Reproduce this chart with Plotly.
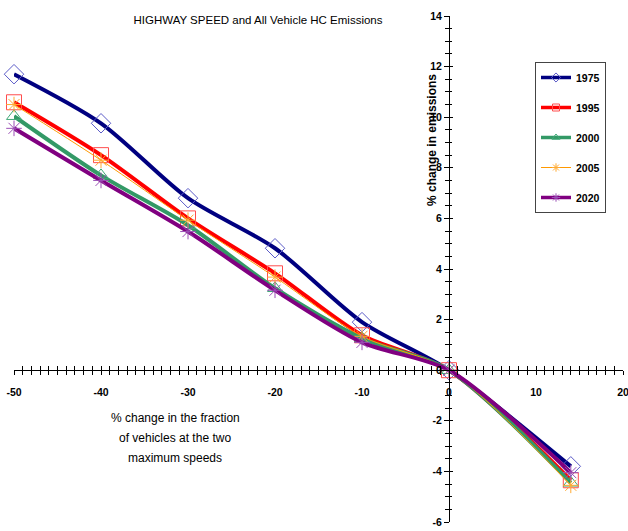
import plotly.graph_objects as go

x_vals = [-50, -40, -30, -20, -10, 0, 14]
series_names = ["1975", "1995", "2000", "2005", "2020"]
y_1975 = [11.70, 9.76, 6.80, 4.82, 1.90, 0.0, -3.80]
y_1995 = [10.59, 8.50, 6.00, 3.83, 1.38, 0.0, -4.35]
y_2000 = [10.04, 7.70, 5.73, 3.24, 1.26, 0.0, -4.45]
y_2005 = [10.50, 8.30, 5.93, 3.68, 1.34, 0.0, -4.55]
y_2020 = [9.56, 7.50, 5.48, 3.16, 1.10, 0.0, -4.05]
series_values = [y_1975, y_1995, y_2000, y_2005, y_2020]

x_tick_vals = [-50, -40, -30, -20, -10, 0, 10, 20]
x_tick_text = ["-50", "-40", "-30", "-20", "-10", "0", "10", "20"]
y_tick_vals = [-6, -4, -2, 0, 2, 4, 6, 8, 10, 12, 14]
y_tick_text = ["-6", "-4", "-2", "0", "2", "4", "6", "8", "10", "12", "14"]

line_colors = ["#000080", "#FF0000", "#339966", "#FF9900", "#800080"]
marker_colors = ["#5B5BC8", "#FF4D4D", "#3FA877", "#FFAA33", "#9A4FB5"]
line_widths = [4, 4, 4, 1, 4]
marker_symbols = ["diamond-open", "square-open", "triangle-up-open", "asterisk-open", "asterisk-open"]
marker_sizes = [15, 15, 13, 13, 13]

x_title_lines = ["% change in the fraction", "of vehicles at the two", "maximum speeds"]
y_title = "% change in emissions"
chart_title = "HIGHWAY SPEED and All Vehicle HC Emissions"

# body margin removed via post_script; plot area target (screen px): x 14..623, y 16..522
OFF = 0
PL, PR, PT, PB = 14 - OFF, 623 - OFF, 16 - OFF, 522 - OFF
W, H = 628, 531
PW, PH = PR - PL, PB - PT


def px_to_paper_x(sx):
    return (sx - OFF - PL) / PW


def px_to_paper_y(sy):
    return 1 - (sy - OFF - PT) / PH


fig = go.Figure()

for i, name in enumerate(series_names):
    fig.add_trace(go.Scatter(
        x=x_vals, y=series_values[i], mode="lines+markers", name=name,
        line=dict(color=line_colors[i], width=line_widths[i], shape="spline", smoothing=0.8),
        marker=dict(symbol=marker_symbols[i], size=marker_sizes[i],
                    color=marker_colors[i], line=dict(color=marker_colors[i], width=1)),
        showlegend=False, hoverinfo="skip", cliponaxis=False,
    ))

# legend entries with small markers
for i, name in enumerate(series_names):
    fig.add_trace(go.Scatter(
        x=[None], y=[None], mode="lines+markers", name=name, legendgroup=name,
        line=dict(color=line_colors[i], width=min(line_widths[i], 3.5)),
        marker=dict(symbol=marker_symbols[i], size=7,
                    color=marker_colors[i], line=dict(color=marker_colors[i], width=1)),
    ))

# invisible helper trace so the overlay axes (inner half of crossing ticks) are drawn
fig.add_trace(go.Scatter(x=[None], y=[None], xaxis="x2", yaxis="y2", showlegend=False,
                         hoverinfo="skip", mode="lines"))

tickfont = dict(family="Liberation Sans, Arial", size=10.5, color="black", weight="bold")

fig.update_layout(
    width=W, height=H,
    margin=dict(l=PL, r=W - PR, t=PT, b=H - PB, autoexpand=False),
    paper_bgcolor="white", plot_bgcolor="white",
    title=dict(text=chart_title, x=(258 - OFF) / W, xref="container", xanchor="center",
               y=1 - (20 - OFF) / H, yref="container", yanchor="middle",
               font=dict(family="Liberation Sans, Arial", size=11.5, color="black")),
    xaxis=dict(range=[-50, 20], anchor="free", position=0.3, showgrid=False, zeroline=False,
               showline=True, linecolor="black", linewidth=1, automargin=False,
               tickmode="array", tickvals=x_tick_vals, ticktext=x_tick_text,
               ticks="outside", ticklen=4,
               tickcolor="black", ticklabelstandoff=8, tickfont=tickfont,
               ticklabeloverflow="allow",
               minor=dict(dtick=1, tick0=-50, ticks="outside", ticklen=4, tickcolor="black"),
               fixedrange=True),
    xaxis2=dict(range=[-50, 20], anchor="free", position=0.3, overlaying="x", showgrid=False,
                zeroline=False, showline=False, showticklabels=False, automargin=False,
                tickmode="linear", tick0=-50, dtick=10, ticks="inside", ticklen=4, tickcolor="black",
                minor=dict(dtick=1, ticks="inside", ticklen=4, tickcolor="black"),
                fixedrange=True),
    yaxis=dict(range=[-6, 14], anchor="free", position=50 / 70, showgrid=False, zeroline=False,
               showline=True, linecolor="black", linewidth=1, automargin=False,
               tickmode="array", tickvals=y_tick_vals, ticktext=y_tick_text,
               ticks="outside", ticklen=5,
               tickcolor="black", tickfont=tickfont, ticklabeloverflow="allow",
               minor=dict(dtick=0.5, tick0=-6, ticks="outside", ticklen=4, tickcolor="black"),
               fixedrange=True),
    yaxis2=dict(range=[-6, 14], anchor="free", position=50 / 70, overlaying="y", showgrid=False,
                zeroline=False, showline=False, showticklabels=False, automargin=False,
                tickmode="linear", tick0=-6, dtick=2, ticks="inside", ticklen=3, tickcolor="black",
                minor=dict(dtick=0.5, ticks="inside", ticklen=2, tickcolor="black"),
                fixedrange=True),
    legend=dict(x=px_to_paper_x(535), y=px_to_paper_y(62), xanchor="left", yanchor="top",
                bordercolor="#444444", borderwidth=1, bgcolor="white",
                tracegroupgap=11,
                font=dict(family="Liberation Sans, Arial", size=10.5, color="black", weight="bold")),
)

# axis titles as annotations
for k, line in enumerate(x_title_lines):
    fig.add_annotation(text=line, xref="paper", yref="paper",
                       x=px_to_paper_x(175), y=px_to_paper_y(418 + k * 20),
                       showarrow=False, xanchor="center", yanchor="middle",
                       font=dict(family="Liberation Sans, Arial", size=12, color="black"))

fig.add_annotation(text="<b>" + y_title + "</b>", xref="paper", yref="paper",
                   x=px_to_paper_x(432), y=px_to_paper_y(140), textangle=-90,
                   showarrow=False, xanchor="center", yanchor="middle",
                   font=dict(family="Liberation Sans, Arial", size=12, color="black"))

fig.write_html("out.html",
               config={"displayModeBar": False},
               post_script="document.body.style.margin='0';document.body.style.overflow='hidden';")
